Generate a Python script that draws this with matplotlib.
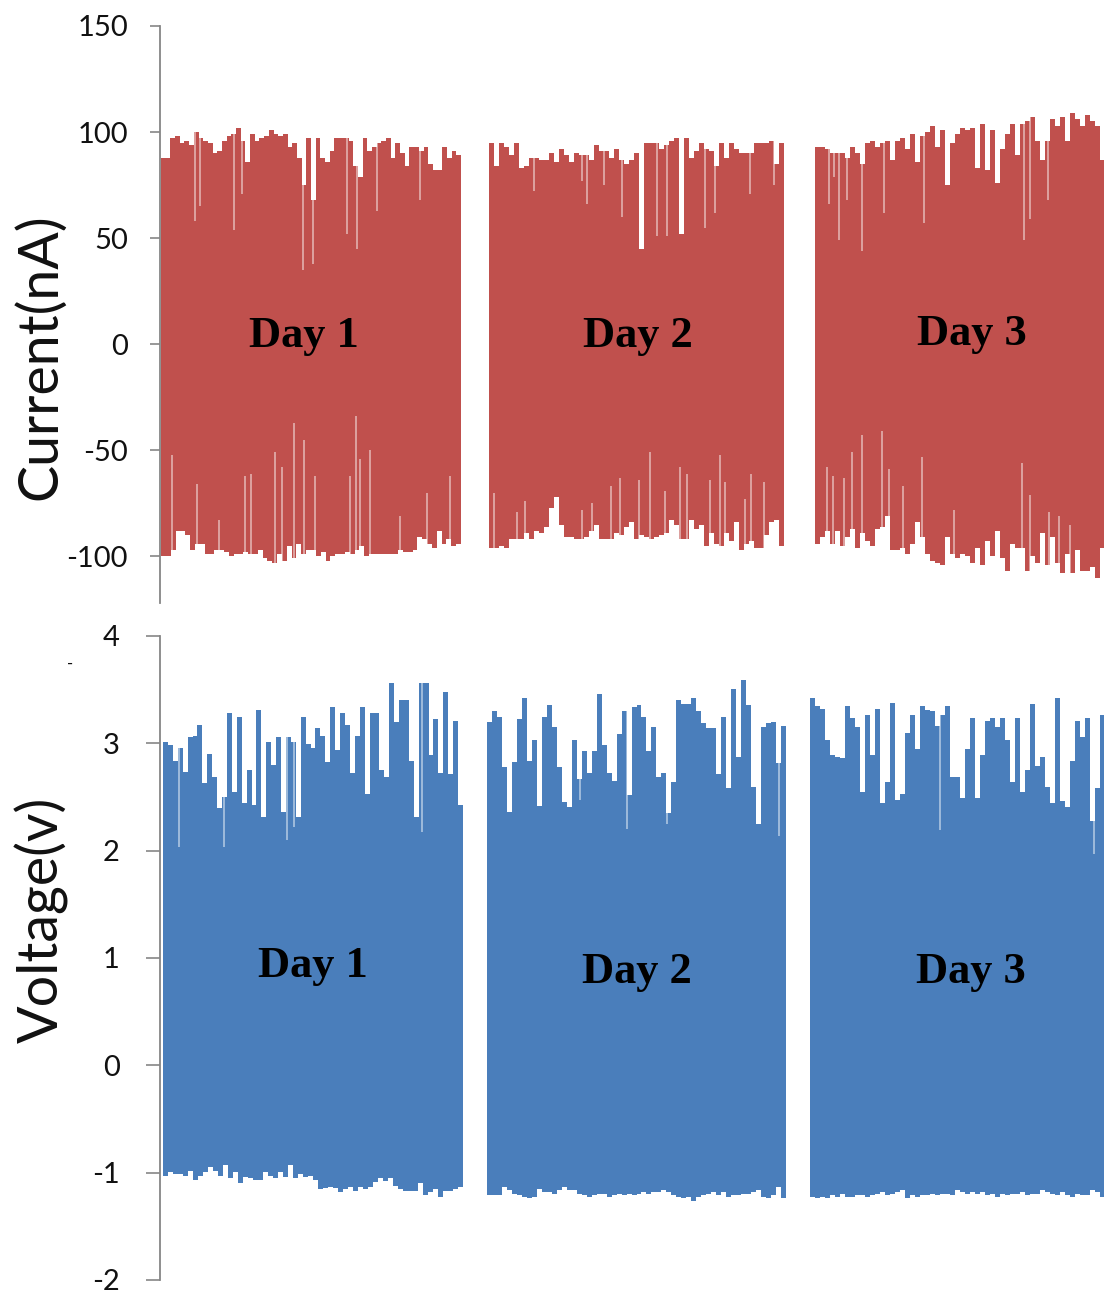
import numpy as np
import matplotlib.pyplot as plt

plt.rcParams['axes.unicode_minus'] = False

# Current (nA): upper and lower envelope of the oscillation, per day
cur_d1_hi = [88, 88, 97, 98, 95, 96, 94, 100, 97, 96, 95, 90, 91, 96, 98, 99, 102, 96, 86, 99,
             96, 97, 98, 101, 99, 98, 99, 93, 95, 88, 75, 97, 68, 97, 88, 86, 91, 97, 97, 97,
             96, 84, 79, 97, 91, 93, 95, 96, 97, 88, 95, 90, 84, 93, 93, 91, 93, 85, 82, 82,
             93, 88, 91, 89]
cur_d1_lo = [-100, -100, -97, -88, -88, -90, -97, -94, -94, -99, -99, -97, -97, -98, -100, -99,
             -99, -98, -99, -99, -97, -101, -102, -103, -99, -102, -95, -101, -94, -99, -97, -97,
             -100, -98, -102, -100, -99, -99, -98, -99, -97, -95, -100, -99, -99, -99, -99, -99,
             -99, -97, -98, -98, -97, -91, -92, -94, -96, -88, -94, -92, -95, -94]
cur_d2_hi = [95, 84, 95, 93, 89, 95, 83, 84, 88, 88, 87, 87, 90, 86, 92, 89, 86, 90, 89, 89,
             87, 94, 91, 91, 88, 92, 87, 85, 87, 90, 45, 95, 95, 95, 92, 94, 96, 97, 52, 97,
             88, 91, 95, 92, 91, 84, 95, 88, 95, 92, 90, 90, 90, 95, 95, 95, 96, 85, 95]
cur_d2_lo = [-96, -96, -95, -96, -92, -92, -92, -89, -92, -88, -89, -86, -77, -72, -85, -91,
             -91, -92, -92, -91, -88, -85, -92, -92, -92, -89, -90, -86, -84, -92, -90, -91,
             -92, -91, -90, -89, -83, -85, -92, -92, -83, -87, -85, -95, -89, -94, -95, -89,
             -93, -84, -97, -94, -93, -96, -96, -90, -84, -83, -95]
cur_d3_hi = [93, 93, 92, 90, 90, 90, 88, 93, 90, 85, 95, 96, 93, 95, 96, 87, 96, 97, 92, 99,
             86, 98, 100, 103, 93, 101, 75, 95, 99, 102, 101, 102, 83, 104, 82, 101, 76, 92,
             99, 104, 89, 104, 105, 107, 96, 87, 96, 106, 103, 107, 96, 109, 106, 103, 108,
             105, 103, 87]
cur_d3_lo = [-94, -91, -88, -94, -88, -95, -91, -87, -96, -89, -93, -95, -87, -86, -81, -97,
             -97, -96, -99, -94, -84, -91, -99, -102, -103, -104, -91, -99, -101, -99, -100,
             -103, -96, -104, -93, -100, -88, -101, -107, -94, -96, -96, -107, -100, -103, -89,
             -104, -91, -103, -108, -99, -108, -97, -107, -107, -105, -110, -96]

# single-cycle glitches (position within the day in cycles, value)
cur_hi_spikes = [
    [(6.8, 58), (7.8, 65), (14.5, 54), (16.1, 71), (28.4, 35), (30.4, 38), (37.1, 52),
     (39.1, 45), (43.1, 63), (51.8, 68)],
    [(8.9, 72), (18.5, 77), (19.5, 66), (22.9, 75), (26.5, 60), (33.5, 51), (35.5, 51),
     (43.2, 55), (45.2, 62), (52.2, 71), (56.9, 75)],
    [(2.7, 66), (3.7, 79), (4.8, 49), (6.3, 68), (9.3, 44), (13.7, 62), (21.7, 57),
     (41.7, 49), (43.0, 59), (46.5, 68)],
]
cur_lo_spikes = [
    [(2.1, -52), (7.1, -66), (11.5, -83), (16.8, -62), (17.9, -61), (22.8, -51), (24.1, -58),
     (26.5, -37), (28.6, -45), (30.8, -62), (37.7, -62), (39.0, -34), (39.8, -54),
     (41.8, -50), (47.8, -81), (53.1, -70), (57.8, -62)],
    [(0.9, -70), (5.5, -79), (7.2, -74), (18.5, -78), (20.5, -75), (24.4, -67), (26.2, -63),
     (29.9, -64), (32.2, -51), (35.2, -69), (38.2, -58), (39.5, -61), (44.2, -64),
     (46.2, -52), (47.2, -65), (51.2, -73), (52.3, -61), (54.9, -65)],
    [(2.3, -58), (3.5, -62), (5.8, -63), (7.3, -51), (9.3, -43), (13.3, -41), (14.7, -59),
     (17.5, -67), (21.3, -53), (27.8, -78), (41.3, -56), (42.9, -71), (46.7, -79),
     (48.7, -81), (50.9, -85)],
]

# Voltage (V)
vol_d1_hi = [3.01, 2.98, 2.84, 2.96, 2.73, 3.06, 3.07, 3.17, 2.63, 2.90,
             2.69, 2.40, 2.50, 3.28, 2.55, 3.25, 2.44, 2.75, 2.43, 3.31,
             2.31, 3.01, 2.80, 3.06, 2.36, 3.06, 3.01, 2.31, 3.25, 2.99,
             2.96, 3.14, 3.07, 2.83, 3.34, 2.94, 3.28, 3.17, 2.72, 3.07,
             3.34, 2.53, 3.28, 3.28, 2.75, 2.69, 3.56, 3.20, 3.40, 3.40,
             2.84, 2.31, 3.56, 3.56, 2.89, 3.23, 2.72, 3.48, 2.71, 3.21, 2.43]
vol_d1_lo = [-1.03, -0.99, -1.01, -1.01, -1.03, -0.98, -1.07, -1.03, -0.99, -0.95,
             -0.98, -1.03, -0.93, -1.05, -0.99, -1.10, -1.04, -1.05, -1.07, -1.07,
             -0.99, -1.03, -1.05, -0.99, -1.04, -0.93, -1.05, -1.01, -1.04, -1.03,
             -1.07, -1.15, -1.14, -1.13, -1.14, -1.18, -1.15, -1.13, -1.17, -1.13,
             -1.15, -1.13, -1.09, -1.05, -1.08, -1.05, -1.12, -1.15, -1.17, -1.17,
             -1.17, -1.10, -1.21, -1.18, -1.15, -1.23, -1.17, -1.17, -1.15, -1.13]
vol_d2_hi = [3.20, 3.30, 3.25, 2.78, 2.36, 2.83, 3.23, 3.42, 2.84, 3.03,
             2.42, 3.25, 3.36, 3.15, 2.78, 2.45, 2.41, 3.03, 2.67, 2.93,
             2.72, 2.93, 3.46, 2.98, 2.72, 2.65, 3.09, 3.30, 2.52, 3.34,
             3.36, 3.25, 2.93, 3.15, 2.69, 2.72, 2.35, 2.64, 3.40, 3.37,
             3.37, 3.42, 3.30, 3.19, 3.14, 3.14, 2.71, 3.25, 2.58, 3.51,
             2.87, 3.59, 3.36, 2.59, 2.25, 3.15, 3.19, 3.20, 2.82, 3.16]
vol_d2_lo = [-1.21, -1.21, -1.21, -1.13, -1.16, -1.20, -1.21, -1.23, -1.24, -1.23,
             -1.15, -1.18, -1.18, -1.20, -1.16, -1.13, -1.16, -1.16, -1.20, -1.21,
             -1.23, -1.21, -1.20, -1.20, -1.23, -1.21, -1.20, -1.21, -1.20, -1.21,
             -1.20, -1.18, -1.20, -1.18, -1.18, -1.16, -1.18, -1.21, -1.23, -1.24,
             -1.23, -1.26, -1.23, -1.21, -1.20, -1.18, -1.21, -1.18, -1.23, -1.21,
             -1.21, -1.20, -1.20, -1.18, -1.16, -1.23, -1.24, -1.21, -1.13, -1.24]
vol_d3_hi = [3.42, 3.35, 3.32, 3.03, 2.89, 2.87, 2.86, 3.35, 3.24, 3.15,
             2.55, 3.26, 2.89, 3.32, 2.44, 2.64, 3.38, 2.47, 2.53, 3.10,
             3.26, 2.95, 3.35, 3.31, 3.30, 3.16, 3.26, 3.35, 2.69, 2.69,
             2.49, 2.95, 3.24, 2.49, 2.89, 3.21, 3.24, 3.15, 3.24, 3.03,
             2.64, 3.24, 2.55, 2.75, 3.37, 2.79, 2.87, 2.59, 2.44, 3.42,
             2.46, 2.41, 2.84, 3.21, 3.06, 3.24, 2.28, 2.58, 3.26]
vol_d3_lo = [-1.23, -1.24, -1.23, -1.24, -1.21, -1.23, -1.20, -1.23, -1.23, -1.21,
             -1.21, -1.23, -1.21, -1.20, -1.18, -1.21, -1.20, -1.18, -1.16, -1.24,
             -1.21, -1.23, -1.21, -1.21, -1.20, -1.21, -1.20, -1.20, -1.21, -1.16,
             -1.18, -1.20, -1.18, -1.20, -1.18, -1.21, -1.20, -1.23, -1.20, -1.21,
             -1.20, -1.20, -1.18, -1.21, -1.20, -1.20, -1.16, -1.18, -1.20, -1.21,
             -1.18, -1.21, -1.23, -1.20, -1.21, -1.21, -1.16, -1.18, -1.23]
vol_hi_spikes = [
    [(3.2, 2.03), (12.1, 2.03), (24.7, 2.10), (26.1, 2.22), (51.7, 2.17)],
    [(18.6, 2.47), (27.9, 2.20), (35.9, 2.25), (58.3, 2.14)],
    [(25.9, 2.19), (56.7, 1.97)],
]

# recording start and length of each day, in cycles
cur_day_start = [0.2, 65.8, 131.0]
cur_day_len = [60.0, 59.0, 58.0]
vol_day_start = [0.6, 65.4, 130.0]
vol_day_len = [60.0, 59.8, 59.0]
day_names = ['Day 1', 'Day 2', 'Day 3']

red = '#C0504D'
blue = '#4A7EBB'
grey = '#868686'


def draw_days(ax, starts, lengths, highs, lows, mid_hi, mid_lo, color):
    for s, L, hi, lo in zip(starts, lengths, highs, lows):
        ax.stairs(hi, np.linspace(s, s + L, len(hi) + 1), baseline=mid_hi,
                  fill=True, color=color, linewidth=0)
        ax.stairs(lo, np.linspace(s, s + L, len(lo) + 1), baseline=mid_lo,
                  fill=True, color=color, linewidth=0)


def draw_spikes(ax, starts, spikes, upper, lim):
    for s, sp in zip(starts, spikes):
        xs = [s + p for p, v in sp]
        vs = [v for p, v in sp]
        if upper:
            ax.vlines(xs, vs, lim, colors='white', alpha=0.55, linewidth=1.2)
        else:
            ax.vlines(xs, lim, vs, colors='white', alpha=0.55, linewidth=1.2)


def style(ax, length, pad):
    for side in ['top', 'right', 'bottom']:
        ax.spines[side].set_visible(False)
    ax.spines['left'].set_color(grey)
    ax.spines['left'].set_linewidth(1.3)
    ax.set_xticks([])
    ax.tick_params(axis='y', direction='out', length=length, width=1.2, color=grey,
                   pad=pad, labelsize=21, labelcolor='#111111')
    for t in ax.get_yticklabels():
        t.set_fontfamily('Lato')
    ax.set_xlim(0, 188.8)


fig = plt.figure(figsize=(11.04, 12.95), dpi=100)
ax1 = fig.add_axes([160 / 1104, 1 - 603 / 1295, 944 / 1104, 577 / 1295])
ax2 = fig.add_axes([160 / 1104, 1 - 1280 / 1295, 944 / 1104, 644 / 1295])

# current panel
draw_days(ax1, cur_day_start, cur_day_len, [cur_d1_hi, cur_d2_hi, cur_d3_hi],
          [cur_d1_lo, cur_d2_lo, cur_d3_lo], -60, 30, red)
draw_spikes(ax1, cur_day_start, cur_hi_spikes, True, 120)
draw_spikes(ax1, cur_day_start, cur_lo_spikes, False, -120)
ax1.set_ylim(-122, 150)
ax1.set_yticks([-100, -50, 0, 50, 100, 150])
style(ax1, 7, 16)

# voltage panel
draw_days(ax2, vol_day_start, vol_day_len, [vol_d1_hi, vol_d2_hi, vol_d3_hi],
          [vol_d1_lo, vol_d2_lo, vol_d3_lo], 0, 1, blue)
draw_spikes(ax2, vol_day_start, vol_hi_spikes, True, 3.9)
ax2.set_ylim(-2, 4)
ax2.set_yticks([-2, -1, 0, 1, 2, 3, 4])
style(ax2, 10, 19)

# day labels
cur_label_pos = [(28.8, -1.4), (95.6, -1.4), (162.4, -0.2)]
vol_label_pos = [(30.6, 0.82), (95.4, 0.77), (162.2, 0.77)]
for name, (x, y) in zip(day_names, cur_label_pos):
    ax1.text(x, y, name, ha='center', va='baseline', fontsize=32, fontweight='bold',
             fontfamily='Liberation Serif', color='black')
for name, (x, y) in zip(day_names, vol_label_pos):
    ax2.text(x, y, name, ha='center', va='baseline', fontsize=32, fontweight='bold',
             fontfamily='Liberation Serif', color='black')

fig.text(40 / 1104, 1 - 357 / 1295, 'Current(nA)', rotation=90, ha='center', va='center',
         fontsize=40, fontfamily='Lato', color='#111111')
fig.text(42 / 1104, 1 - 920 / 1295, 'Voltage(v)', rotation=90, ha='center', va='center',
         fontsize=40, fontfamily='Lato', color='#111111')
fig.text(70 / 1104, 1 - 664 / 1295, '-', ha='center', va='center', fontsize=12,
         fontfamily='Lato', color='#111111')

fig.savefig('out.png', dpi=100)
